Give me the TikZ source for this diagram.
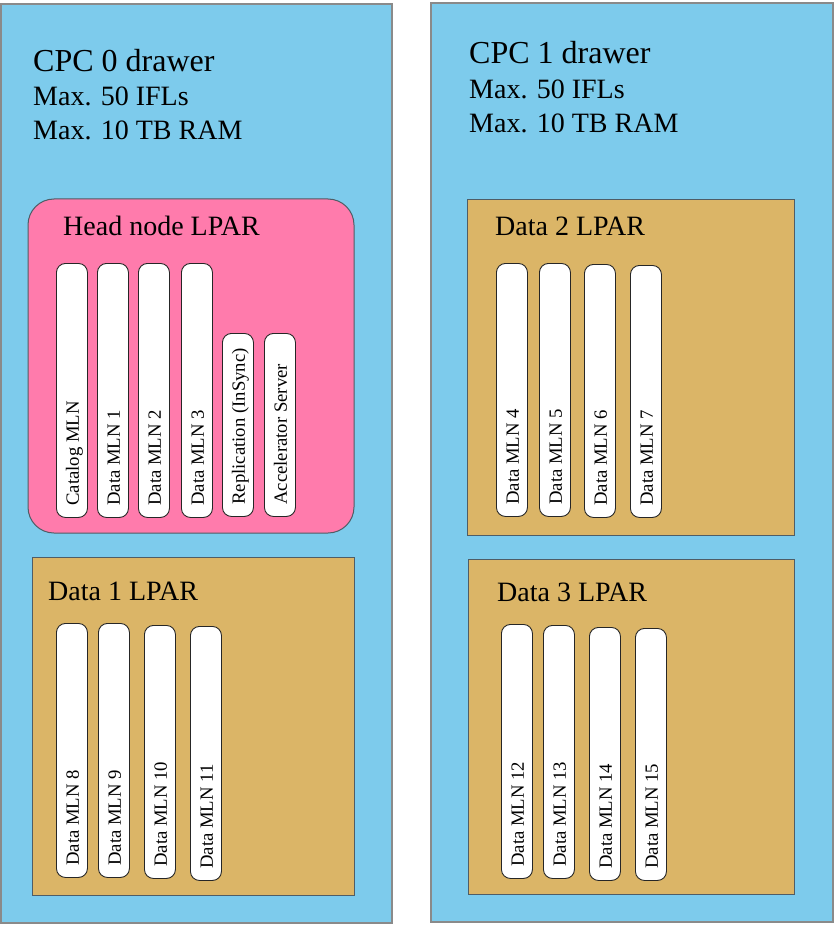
\documentclass[tikz,border=0pt]{standalone}
\usepackage{fontspec}
\setmainfont{Liberation Serif}
\definecolor{cpcblue}{HTML}{7DCBEC}
\definecolor{cpcedge}{HTML}{8A8A8A}
\definecolor{headpink}{HTML}{FF7BAC}
\definecolor{lpartan}{HTML}{DBB567}
\definecolor{lparedge}{HTML}{4F5D66}
\begin{document}
\begin{tikzpicture}[x=1pt,y=-1pt,
  cpcbox/.style={fill=cpcblue,draw=cpcedge,line width=1.3pt},
  headbox/.style={fill=headpink,draw=lparedge,line width=1pt,rounded corners=26pt},
  lparbox/.style={fill=lpartan,draw=lparedge,line width=1pt},
  pill/.style={fill=white,draw=black!85,line width=0.9pt,rounded corners=9pt,inner sep=0pt,anchor=north west},
  pilltext/.style={rotate=90,anchor=base west,inner sep=0pt,font=\fontsize{18.7}{22}\selectfont},
  bigtitle/.style={anchor=base west,inner sep=0pt,font=\fontsize{32}{36}\selectfont},
  subtitle/.style={anchor=base west,inner sep=0pt,font=\fontsize{28}{32}\selectfont},
  lpartitle/.style={anchor=base west,inner sep=0pt,font=\fontsize{28}{32}\selectfont}
]
\useasboundingbox (0,0) rectangle (839,925);

% CPC drawers
\draw[cpcbox] (1,4) rectangle (392,923);
\coordinate (cpc0) at (1,4);
\draw[cpcbox] (431,3) rectangle (833,922);
\coordinate (cpc1) at (431,3);

\node[bigtitle] (t0a) at (33,72) {CPC 0 drawer};
\node[subtitle] (t0b) at (33,106) {Max. 50 IFLs};
\node[subtitle] (t0c) at (33,140) {Max. 10 TB RAM};

\node[bigtitle] (t1a) at (469,64) {CPC 1 drawer};
\node[subtitle] (t1b) at (469,99) {Max. 50 IFLs};
\node[subtitle] (t1c) at (469,133) {Max. 10 TB RAM};

% LPARs
\draw[headbox] (28,199) rectangle (354,533);
\node[lpartitle] (hl) at (63,235) {Head node LPAR};

\draw[lparbox] (32,557) rectangle (354,895);
\node[lpartitle] (d1l) at (48,600) {Data 1 LPAR};

\draw[lparbox] (467,200) rectangle (794,535);
\node[lpartitle] (d2l) at (495,236) {Data 2 LPAR};

\draw[lparbox] (468,559) rectangle (794,894);
\node[lpartitle] (d3l) at (497,601) {Data 3 LPAR};

% pills: name, left x, top y, bottom y, text
\foreach \n/\x/\t/\b/\lab in {
  cat/56/263/517/Catalog MLN,
  m1/97/263/517/Data MLN 1,
  m2/138/263/517/Data MLN 2,
  m3/181/263/517/Data MLN 3,
  rep/222/333/516/Replication (InSync),
  acc/264/333/516/Accelerator Server,
  m8/56/623/877/Data MLN 8,
  m9/98/623/877/Data MLN 9,
  m10/144/625/878/Data MLN 10,
  m11/190/626/880/Data MLN 11,
  m4/496/263/516/Data MLN 4,
  m5/539/263/516/Data MLN 5,
  m6/584/264/517/Data MLN 6,
  m7/630/265/517/Data MLN 7,
  m12/501/624/878/Data MLN 12,
  m13/543/625/878/Data MLN 13,
  m14/589/627/880/Data MLN 14,
  m15/635/628/880/Data MLN 15}
{
  \pgfmathsetmacro{\h}{\b-\t}
  \node[pill,minimum width=31pt,minimum height=\h pt] (\n) at (\x,\t) {};
  \node[pilltext] (\n-txt) at ([xshift=7pt,yshift=12pt]\n.south) {\lab};
}
\end{tikzpicture}
\end{document}
